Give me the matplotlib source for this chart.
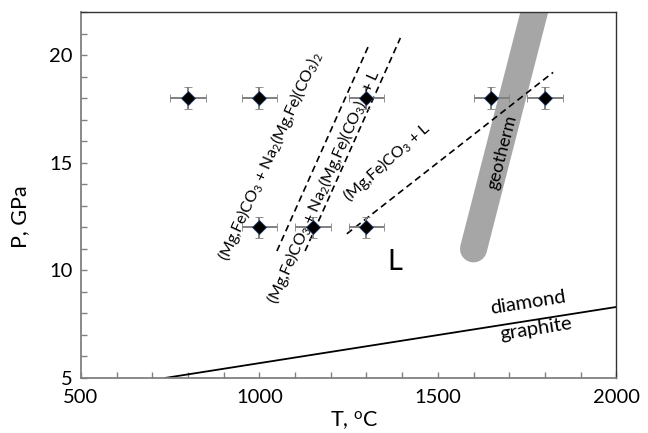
import matplotlib
matplotlib.use('Agg')
import matplotlib.pyplot as plt

# experimental run conditions (T in C, P in GPa)
run_T = [800, 1000, 1300, 1650, 1800, 1000, 1150, 1300]
run_P = [18, 18, 18, 18, 18, 12, 12, 12]
err_T = 50
err_P = 0.5

# phase boundaries (dashed)
bnd1_T = [1049, 1305]
bnd1_P = [10.9, 20.4]
bnd2_T = [1128, 1395]
bnd2_P = [10.9, 20.8]
bnd3_T = [1245, 1823]
bnd3_P = [11.7, 19.2]

# geotherm band
geo_T = [1600, 1778]
geo_P = [11.0, 22.5]

# diamond / graphite equilibrium
dg_T = [735, 2000]
dg_P = [5.0, 8.3]

plt.rcParams['font.family'] = ['Lato', 'DejaVu Sans']
plt.rcParams['mathtext.default'] = 'regular'

fig = plt.figure(figsize=(6.48, 4.33), dpi=100)
ax = fig.add_axes([0.125, 0.127, 0.826, 0.845])

ax.plot(geo_T, geo_P, color='#a6a6a6', lw=19.5, solid_capstyle='round', zorder=1)
ax.plot(dg_T, dg_P, color='black', lw=1.3, zorder=2)
for bt, bp in [(bnd1_T, bnd1_P), (bnd2_T, bnd2_P), (bnd3_T, bnd3_P)]:
    ax.plot(bt, bp, color='black', lw=1.2, dashes=(4, 2.5), zorder=2)

ax.errorbar(run_T, run_P, xerr=err_T, yerr=err_P, fmt='D', color='black',
            ms=7, mec='#1f3a6b', mew=0.6, ecolor='#808080', elinewidth=1.4,
            capsize=3, capthick=1.2, zorder=3)

lab1 = '(Mg,Fe)CO$_3$ + Na$_2$(Mg,Fe)(CO$_3$)$_2$'
lab2 = '(Mg,Fe)CO$_3$ + Na$_2$(Mg,Fe)(CO$_3$)$_2$ + L'
lab3 = '(Mg,Fe)CO$_3$ + L'
ax.text(1030, 15.3, lab1, rotation=65.5, rotation_mode='anchor',
        ha='center', va='center', fontsize=11.5)
ax.text(1180, 13.9, lab2, rotation=66, rotation_mode='anchor',
        ha='center', va='center', fontsize=11.5)
ax.text(1357, 15.05, lab3, rotation=41.5, rotation_mode='anchor',
        ha='center', va='center', fontsize=11.5)
ax.text(1680, 15.5, 'geotherm', rotation=75.5, rotation_mode='anchor',
        ha='center', va='center', fontsize=13)
ax.text(1753, 8.5, 'diamond', rotation=9, rotation_mode='anchor',
        ha='center', va='center', fontsize=14.5)
ax.text(1775, 7.3, 'graphite', rotation=9, rotation_mode='anchor',
        ha='center', va='center', fontsize=14.5)
ax.text(1380, 10.4, 'L', ha='center', va='center', fontsize=21)

ax.set_xlim(500, 2000)
ax.set_ylim(5, 22)
ax.set_xticks([500, 1000, 1500, 2000])
ax.set_yticks([5, 10, 15, 20])
ax.set_xticks(range(500, 2001, 100), minor=True)
ax.set_yticks(range(5, 23), minor=True)
ax.tick_params(which='both', direction='in', length=4.5, width=1,
               color='#808080', labelsize=14.5)
ax.tick_params(axis='x', pad=8)
ax.tick_params(axis='y', pad=6)

for side in ['left', 'bottom']:
    ax.spines[side].set_color('#808080')
    ax.spines[side].set_linewidth(1.3)
for side in ['top', 'right']:
    ax.spines[side].set_color('#333333')
    ax.spines[side].set_linewidth(1.0)

ax.set_xlabel('T, $^o$C', fontsize=15.5)
ax.set_ylabel('P, GPa', fontsize=15.5)
ax.xaxis.set_label_coords(0.51, -0.085)
ax.yaxis.set_label_coords(-0.095, 0.44)

fig.savefig('out.png', dpi=100)
